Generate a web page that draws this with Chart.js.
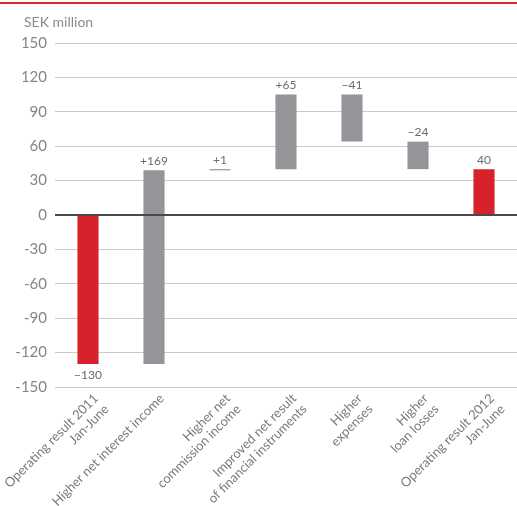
<!DOCTYPE html>
<html>
<head>
<meta charset="utf-8">
<script src="https://cdn.jsdelivr.net/npm/chart.js@4/dist/chart.umd.min.js"></script>
<style>
  html, body { margin: 0; padding: 0; background: #fff; }
  #wrap { position: relative; width: 517px; height: 506px; }
  #topline { position: absolute; left: 0; top: 2px; width: 517px; height: 2px; background: #e0262d; }
  #unit { position: absolute; left: 24px; top: 13px; font: 14px Lato, sans-serif; color: #8a8a8a; }
  canvas { position: absolute; left: 0; top: 0; }
</style>
</head>
<body>
<div id="wrap">
  <canvas id="chart" width="517" height="506"></canvas>
  <div id="topline"></div>
  <div id="unit">SEK million</div>
</div>
<script>
const categories = [
    ['Operating result 2011', 'Jan-June'],
    'Higher net interest income',
    ['Higher net', 'commission income'],
    ['Improved net result', 'of financial instruments'],
    ['Higher', 'expenses'],
    ['Higher', 'loan losses'],
    ['Operating result 2012', 'Jan-June'],
];
const barFrom = [0, -130, 39, 40, 105, 64, 0];
const barTo = [-130, 39, 40, 105, 64, 40, 40];
const valueLabels = ['\u2212130', '+169', '+1', '+65', '\u221241', '\u221224', '40'];
const yTicks = [150, 120, 90, 60, 30, 0, -30, -60, -90, -120, -150];

const RED = '#d8222b';
const GREY = '#939598';
const barColors = categories.map((c, i) => (i === 0 || i === categories.length - 1) ? RED : GREY);

// value labels above/below bars, plus the zero line drawn on top of the bars
const valueLabelPlugin = {
    id: 'valueLabels',
    afterDatasetsDraw(chart) {
        const { ctx, chartArea } = chart;
        const meta = chart.getDatasetMeta(0);
        const y = chart.scales.y;
        ctx.save();
        const y0 = y.getPixelForValue(0);
        ctx.strokeStyle = '#4a4a4a';
        ctx.lineWidth = 2;
        ctx.beginPath();
        ctx.moveTo(chartArea.left, y0);
        ctx.lineTo(chartArea.right, y0);
        ctx.stroke();

        ctx.font = '12px Lato, sans-serif';
        ctx.fillStyle = '#6b6b6b';
        ctx.textAlign = 'center';
        meta.data.forEach((bar, i) => {
            const lo = Math.min(barFrom[i], barTo[i]);
            const hi = Math.max(barFrom[i], barTo[i]);
            if (barTo[i] < 0) {
                ctx.textBaseline = 'top';
                ctx.fillText(valueLabels[i], bar.x, y.getPixelForValue(lo) + 5);
            } else {
                ctx.textBaseline = 'bottom';
                ctx.fillText(valueLabels[i], bar.x, y.getPixelForValue(hi) - 3);
            }
        });
        ctx.restore();
    },
};

new Chart(document.getElementById('chart').getContext('2d'), {
    type: 'bar',
    data: {
        labels: categories,
        datasets: [{
            data: barFrom.map((v, i) => [v, barTo[i]]),
            backgroundColor: barColors,
            borderWidth: 0,
            borderSkipped: false,
            categoryPercentage: 1,
            barPercentage: 0.32,
            minBarLength: 1,
        }],
    },
    options: {
        responsive: false,
        animation: false,
        layout: { padding: { top: 43, right: 0, bottom: 0, left: 0 } },
        plugins: { legend: { display: false }, tooltip: { enabled: false } },
        scales: {
            x: {
                grid: { display: false },
                border: { display: false },
                ticks: {
                    minRotation: 45,
                    maxRotation: 45,
                    color: '#7a7a7a',
                    font: { family: 'Lato, sans-serif', size: 13, lineHeight: 1.15 },
                    padding: -4,
                    labelOffset: 8,
                },
                afterFit: (scale) => {
                    scale.height = 119;
                    scale.paddingLeft = 0;
                    scale.paddingRight = 0;
                },
            },
            y: {
                min: -150,
                max: 150,
                afterBuildTicks: (scale) => { scale.ticks = yTicks.map(v => ({ value: v })); },
                grid: {
                    drawTicks: false,
                    color: (c) => c.tick && c.tick.value === 0 ? '#4a4a4a' : '#c9c9c9',
                    lineWidth: (c) => c.tick && c.tick.value === 0 ? 2 : 1,
                },
                border: { display: false },
                ticks: {
                    color: '#858585',
                    font: { family: 'Lato, sans-serif', size: 15 },
                    padding: 8,
                },
                afterFit: (scale) => { scale.width = 55; },
            },
        },
    },
    plugins: [valueLabelPlugin],
});
</script>
</body>
</html>
